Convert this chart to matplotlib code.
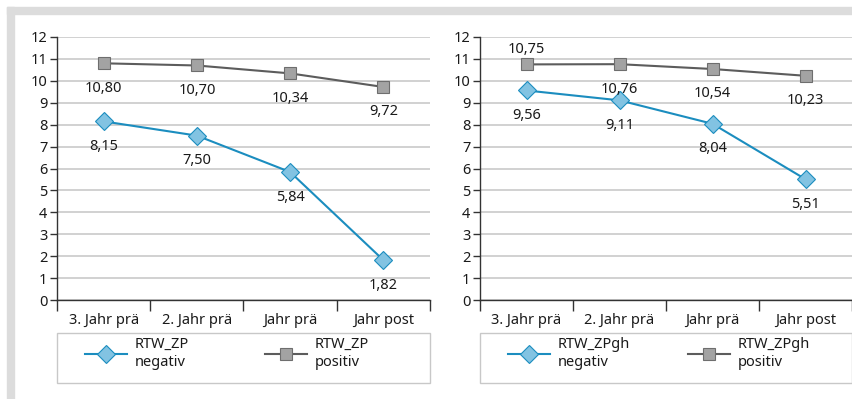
"""
Two line panels: RTW_ZP and RTW_ZPgh, negativ vs. positiv, over four years.
"""

import numpy as np
import matplotlib
matplotlib.use("Agg")
import matplotlib.pyplot as plt
from matplotlib.patches import Rectangle
from matplotlib.legend import Legend

plt.rcParams["font.family"] = ["Noto Sans", "DejaVu Sans"]
plt.rcParams["font.size"] = 10

categories = ["3. Jahr prä", "2. Jahr prä", "Jahr prä", "Jahr post"]

zp_negativ = [8.15, 7.50, 5.84, 1.82]
zp_positiv = [10.80, 10.70, 10.34, 9.72]

zpgh_negativ = [9.56, 9.11, 8.04, 5.51]
zpgh_positiv = [10.75, 10.76, 10.54, 10.23]

# label placement per point: True = above the marker
zp_pos_above = [False, False, False, False]
zpgh_pos_above = [True, False, False, False]

BLUE = "#1b8dbf"
BLUE_FACE = "#82c3e2"
GRAY = "#5c5c5c"
GRAY_FACE = "#a3a3a3"
TEXT = "#1a1a1a"

W, H = 852, 399
AX_H = 263  # axes height in px


def fmt(v):
    return f"{v:.2f}".replace(".", ",")


def draw_panel(ax, negativ, positiv, name, pos_above, width_px):
    x = np.arange(len(categories))
    l_neg, = ax.plot(x, negativ, color=BLUE, lw=1.5, marker="D", ms=9,
                     mfc=BLUE_FACE, mec=BLUE, mew=0.8, zorder=3,
                     label=f"{name}\nnegativ")
    l_pos, = ax.plot(x, positiv, color=GRAY, lw=1.5, marker="s", ms=8,
                     mfc=GRAY_FACE, mec="#6e6e6e", mew=0.8, zorder=3,
                     label=f"{name}\npositiv")

    for xi, v in zip(x, negativ):
        ax.annotate(fmt(v), (xi, v), xytext=(0, -18), textcoords="offset points",
                    ha="center", va="center", color=TEXT, fontsize=10.5)
    for xi, v, up in zip(x, positiv, pos_above):
        ax.annotate(fmt(v), (xi, v), xytext=(0, 11 if up else -18),
                    textcoords="offset points",
                    ha="center", va="center", color=TEXT, fontsize=10.5)

    ax.set_xlim(-0.5, len(categories) - 0.5)
    ax.set_ylim(0, 12)
    ax.set_yticks(range(0, 13))
    ax.yaxis.grid(True, color="#c9c9c9", lw=1.2)
    ax.set_axisbelow(True)

    ax.set_xticks(np.arange(-0.5, len(categories)))
    ax.set_xticklabels([])
    ax.set_xticks(x, minor=True)
    ax.set_xticklabels(categories, minor=True)
    ax.tick_params(axis="x", which="major", length=8, width=1, color="#333333",
                   direction="out")
    ax.tick_params(axis="x", which="minor", length=0, pad=9, labelcolor=TEXT,
                   labelsize=10.5)
    ax.tick_params(axis="y", length=5, width=1, color="#333333", pad=2,
                   labelcolor=TEXT, labelsize=10.5)

    for s in ["top", "right"]:
        ax.spines[s].set_visible(False)
    for s in ["left", "bottom"]:
        ax.spines[s].set_color("#333333")
        ax.spines[s].set_linewidth(1)

    # legend box below the axes (px 333..383 from the top)
    box_top = -33 / AX_H
    box_h = 50 / AX_H
    ax.add_patch(Rectangle((0, box_top - box_h), 1, box_h, transform=ax.transAxes,
                           fill=False, edgecolor="#c8c8c8", lw=1, clip_on=False))

    col_x = [28 / width_px, 208 / width_px]
    for handle, cx in zip([l_neg, l_pos], col_x):
        leg = Legend(ax, [handle], [handle.get_label()], loc="upper left",
                     bbox_to_anchor=(cx, box_top - 4 / AX_H),
                     bbox_transform=ax.transAxes,
                     frameon=False, handlelength=2.9, handletextpad=0.5,
                     borderpad=0, borderaxespad=0, fontsize=10.5)
        for t in leg.get_texts():
            t.set_color(TEXT)
            t.set_linespacing(1.25)
        ax.add_artist(leg)


fig = plt.figure(figsize=(W / 100, H / 100), dpi=100)

# gray frame on top and left
fig.patches.append(Rectangle((7 / W, 1 - 14 / H), 1, 7 / H,
                             transform=fig.transFigure, color="#dcdcdc", zorder=0))
fig.patches.append(Rectangle((7 / W, 0), 7 / W, 1 - 7 / H,
                             transform=fig.transFigure, color="#dcdcdc", zorder=0))

ax1 = fig.add_axes([57 / W, 1 - 300 / H, (430 - 57) / W, AX_H / H])
ax2 = fig.add_axes([480 / W, 1 - 300 / H, (852 - 480) / W, AX_H / H])
ax1.patch.set_alpha(0)
ax2.patch.set_alpha(0)

draw_panel(ax1, zp_negativ, zp_positiv, "RTW_ZP", zp_pos_above, 430 - 57)
draw_panel(ax2, zpgh_negativ, zpgh_positiv, "RTW_ZPgh", zpgh_pos_above, 852 - 480)

fig.savefig("out.png", dpi=100)
